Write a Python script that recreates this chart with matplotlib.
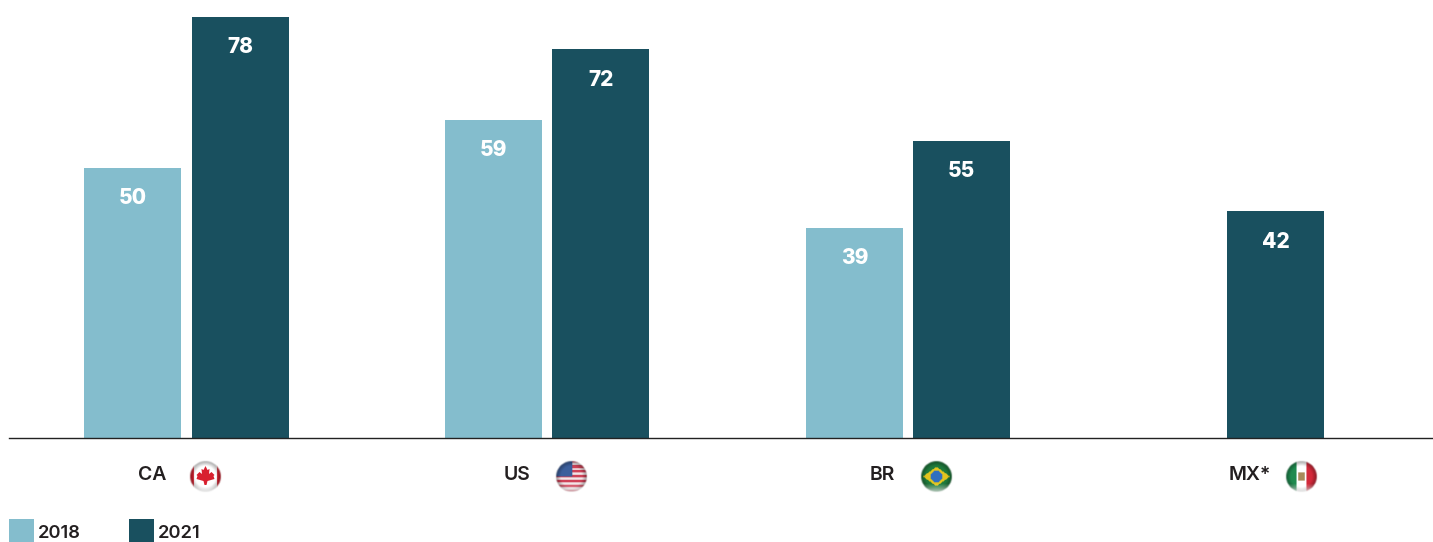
import numpy as np
import matplotlib
matplotlib.use("Agg")
import matplotlib.pyplot as plt
from matplotlib.patches import Polygon, Rectangle

countries = ["CA", "US", "BR", "MX*"]
years = ["2018", "2021"]
values_2018 = [50, 59, 39, None]
values_2021 = [78, 72, 55, 42]

LIGHT = "#84bdcd"
DARK = "#19505f"
TEXT = "#231f20"
W, H = 1433, 542

plt.rcParams["font.family"] = ["Inter", "DejaVu Sans"]

fig = plt.figure(figsize=(W / 100, H / 100), dpi=100)
ax = fig.add_axes([9 / W, 1 - 438 / H, (W - 9) / W, 421 / H])
over = fig.add_axes([0, 0, 1, 1], zorder=5)
over.set_xlim(0, W)
over.set_ylim(H, 0)
over.axis("off")

# one group is about 361 px wide, bar is 97 px
step = 360.8
bar_w = 97 / step
off = 53.6 / step
ax.set_xlim((9 - 186.5) / step, (W - 186.5) / step)
ax.set_ylim(0, 78)

for i in range(len(countries)):
    a, b = values_2018[i], values_2021[i]
    if a is None:
        # only one year, bar sits on the middle of its group
        pairs = [(i + 0.018, b, DARK)]
    else:
        pairs = [(i - off, a, LIGHT), (i + off, b, DARK)]
    for x, v, c in pairs:
        ax.bar(x, v, width=bar_w, color=c)
        ax.annotate(str(v), (x, v), xytext=(0, -21.8), textcoords="offset points",
                    ha="center", va="center", color="white",
                    fontsize=15, fontweight="heavy")

# tick labels are not centred under the groups in the original
label_shift = [-34, -30, -25.5, -19]
ax.set_xticks([i + s / step for i, s in enumerate(label_shift)])
ax.set_xticklabels(countries, fontsize=14, fontweight="semibold", color=TEXT)
ax.tick_params(axis="x", length=0, pad=20)
ax.set_yticks([])
for s in ["top", "left", "right"]:
    ax.spines[s].set_visible(False)
ax.spines["bottom"].set_color("#222222")
ax.spines["bottom"].set_linewidth(1)


def to_rgb(c):
    return matplotlib.colors.to_rgb(c)


def flag_image(name, n=40):
    v, u = np.mgrid[-1:1:n * 1j, -1:1:n * 1j]
    rgb = np.ones((n, n, 3))
    if name == "CA":
        rgb[np.abs(u) > 0.72] = to_rgb("#d8202f")
    elif name == "US":
        rgb[:] = to_rgb("#f2e6e8")
        stripes = (np.floor((v + 1) * 6.5).astype(int) % 2) == 0
        rgb[stripes] = to_rgb("#cf4358")
        rgb[(u < 0.05) & (v < 0.0)] = to_rgb("#3c5f9c")
    elif name == "BR":
        rgb[:] = to_rgb("#1f7a3c")
        rgb[np.abs(u) / 0.85 + np.abs(v) / 0.6 < 1] = to_rgb("#e3c51e")
        rgb[u ** 2 + v ** 2 < 0.36 ** 2] = to_rgb("#2f6fc0")
    else:
        rgb[u < -0.33] = to_rgb("#1f8a4f")
        rgb[u > 0.33] = to_rgb("#d3293a")
        rgb[(np.abs(u) < 0.22) & (np.abs(v) < 0.25)] = to_rgb("#a88a5a")
    r = np.sqrt(u ** 2 + v ** 2)
    # darker rim, pale glow at the bottom like the glossy buttons
    shade = 1 - 0.4 * np.clip((r - 0.65) / 0.35, 0, 1)
    rgb = rgb * shade[..., None]
    glow = np.clip((v - 0.45) / 0.55, 0, 1)[..., None] * 0.75
    rgb = rgb * (1 - glow) + glow
    alpha = np.clip((1 - r) * n / 4, 0, 1)
    return np.dstack([rgb, alpha])


flag_x = [205.5, 571.5, 936.5, 1302]
R = 16.5
for name, fx in zip(["CA", "US", "BR", "MX"], flag_x):
    over.imshow(flag_image(name), extent=(fx - R, fx + R, 476.5 + R, 476.5 - R),
                aspect="auto", interpolation="bilinear", zorder=2)
    if name == "CA":
        leaf = np.array([(0, -10), (2, -6), (4, -7), (3.5, -2), (6, -4), (9, -1), (8, 0),
                         (9, 3), (2, 5), (1, 9), (-1, 9), (-2, 5), (-9, 3), (-8, 0),
                         (-9, -1), (-6, -4), (-3.5, -2), (-4, -7), (-2, -6)])
        over.add_patch(Polygon(leaf + [fx, 476], closed=True, fc="#d8202f", ec="none", zorder=3))
over.set_xlim(0, W)
over.set_ylim(H, 0)

# legend
for x, c, y in zip([9, 129], [LIGHT, DARK], years):
    over.add_patch(Rectangle((x, 519), 25, 23, fc=c, ec="none"))
    over.text(x + 28.5, 533.5, y, fontsize=13.2, fontweight="semibold", color=TEXT,
              ha="left", va="center")

fig.savefig("out.png", dpi=100)
